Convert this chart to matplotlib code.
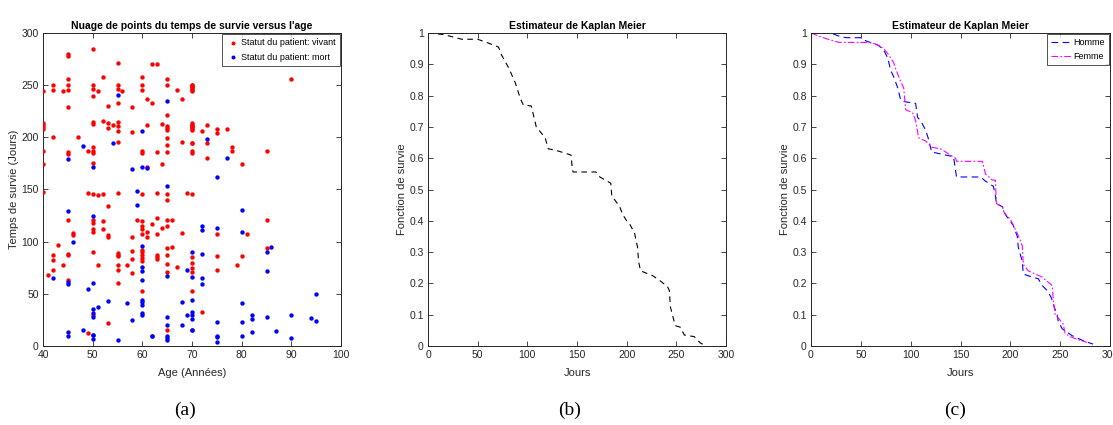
import matplotlib
matplotlib.use("Agg")
import matplotlib.pyplot as plt
import numpy as np

# ---------------- data: panel (a) ----------------
age_vivant = [45, 45, 50, 55, 62, 63, 52, 45, 60, 65, 42, 42, 40, 44, 45, 45, 50, 50, 51, 50,
              55, 55, 56, 60, 60, 61, 62, 65, 67, 68, 70, 70, 70, 55, 53, 45, 58, 65,
              40, 40, 40, 40, 50, 50, 52, 53, 53, 54, 55, 55, 55, 55, 58, 61, 64,
              65, 65, 65, 65, 65, 65, 70, 70, 70, 68, 70, 42, 47, 49, 50, 50, 50, 45, 45,
              40, 40, 50, 60, 60, 63, 64, 61,
              90, 70, 70, 70, 70, 70, 70, 70, 70, 72, 73, 75, 75, 77, 70, 73, 78, 78, 70, 70, 85, 73, 80,
              40, 49, 50, 51, 52, 55, 60, 63, 65, 65, 69, 70,
              45, 53, 50, 50, 50, 50, 52, 52, 53, 53, 46, 46, 59, 60, 60, 60, 60, 61, 61, 62, 63, 64, 63,
              58, 65, 65, 66, 68, 43, 42, 42, 42, 41, 44, 45, 45, 45, 50, 51,
              55, 55, 55, 55, 55, 55, 57, 58, 58, 58, 60, 60, 60, 60, 60, 60, 63, 63, 63,
              65, 65, 65, 65, 66, 67, 70, 70, 70, 70, 70, 53, 65, 49, 50,
              85, 75, 81, 75, 80, 79, 75, 85, 72]
temps_vivant = [280, 278, 285, 271, 270, 270, 258, 256, 258, 256, 250, 245, 244, 244, 250, 245, 250, 246, 244, 240,
                250, 246, 244, 250, 245, 237, 233, 250, 245, 237, 250, 248, 245, 233, 230, 229, 229, 221,
                214, 212, 210, 208, 215, 213, 216, 214, 209, 212, 215, 211, 206, 196, 205, 212, 213,
                211, 209, 207, 199, 193, 186, 212, 210, 207, 196, 195, 200, 200, 187, 191, 187, 185, 186, 184,
                187, 174, 175, 187, 185, 186, 174, 172,
                256, 250, 248, 246, 244, 214, 212, 210, 208, 206, 212, 208, 204, 208, 195, 195, 191, 187, 187, 185, 187, 180, 174,
                148, 147, 146, 145, 146, 147, 146, 147, 146, 140, 147, 146,
                121, 134, 121, 118, 112, 109, 120, 112, 106, 104, 108, 106, 121, 120, 115, 112, 107, 109, 104, 117, 123, 113, 107,
                104, 121, 115, 121, 108, 97, 87, 82, 73, 68, 78, 88, 87, 63, 90, 78,
                89, 87, 86, 78, 73, 60, 78, 91, 83, 70, 92, 90, 87, 84, 81, 53, 87, 85, 83,
                94, 87, 79, 71, 95, 76, 85, 80, 75, 71, 53, 22, 15, 12, 30,
                121, 107, 107, 86, 86, 78, 73, 94, 33]
age_mort = [55, 65, 60, 54, 48, 45, 50, 58, 60, 61, 65, 59, 73, 77, 75, 59, 45, 50, 46,
            42, 45, 45, 50, 49, 60, 60, 60, 60, 60, 60, 60, 60, 60, 62, 65, 68, 69, 69,
            70, 70, 70, 70, 70, 53, 51, 50, 50, 50, 50, 57, 58, 65, 65, 65, 65, 65, 68, 45, 45, 48, 50, 50, 55,
            80, 72, 72, 75, 80, 72, 85, 86, 85, 72, 72, 70, 75, 75, 75, 75, 80, 80, 80, 82, 82, 82,
            85, 87, 90, 90, 94, 95, 95, 62, 70, 70]
temps_mort = [241, 235, 206, 195, 192, 179, 172, 170, 172, 171, 153, 149, 198, 180, 162, 135, 129, 125, 100,
              65, 61, 59, 60, 55, 96, 76, 72, 63, 44, 42, 39, 32, 30, 10, 67, 42, 73, 30,
              90, 66, 44, 33, 30, 43, 37, 35, 32, 28, 11, 41, 25, 28, 20, 10, 8, 6, 20, 13, 10, 15, 11, 7, 6,
              130, 115, 111, 113, 109, 88, 90, 95, 72, 65, 59, 15, 23, 10, 9, 4, 41, 23, 10, 30, 26, 13,
              28, 14, 30, 8, 27, 50, 24, 10, 26, 15]

# ---------------- data: panel (b) ----------------
km_jours = [0, 16, 34, 50, 59, 71, 74, 81, 88, 93, 96, 104, 106, 109, 118, 121, 129, 144, 145, 146,
            169, 173, 184, 185, 193, 196, 200, 203, 208, 211, 212, 214, 226, 233, 241, 243, 244,
            246, 249, 254, 258, 268, 274, 280]
km_survie = [1.0, 0.995, 0.98, 0.98, 0.97, 0.955, 0.93, 0.89, 0.84, 0.79, 0.77, 0.767, 0.74, 0.70, 0.665,
             0.63, 0.625, 0.61, 0.575, 0.556, 0.556, 0.54, 0.52, 0.48, 0.445, 0.42, 0.40, 0.39, 0.36,
             0.315, 0.27, 0.24, 0.225, 0.21, 0.19, 0.177, 0.125, 0.10, 0.065, 0.06, 0.035, 0.03, 0.01, 0.0]

# ---------------- data: panel (c) ----------------
homme_jours = [0, 20, 28, 35, 50, 55, 68, 73, 77, 80, 83, 87, 90, 95, 105, 107, 110, 115, 118, 121,
               128, 135, 143, 146, 170, 175, 183, 185, 186, 192, 195, 203, 207, 208, 212, 213, 222,
               228, 232, 237, 241, 244, 247, 248, 252, 257, 262, 273, 283]
homme_survie = [1.0, 1.0, 0.99, 0.985, 0.985, 0.975, 0.96, 0.945, 0.92, 0.88, 0.86, 0.825, 0.785, 0.78,
                0.775, 0.73, 0.72, 0.69, 0.66, 0.62, 0.615, 0.61, 0.605, 0.54, 0.54, 0.527, 0.51, 0.48,
                0.455, 0.445, 0.42, 0.385, 0.35, 0.315, 0.27, 0.23, 0.22, 0.215, 0.193, 0.177, 0.155,
                0.125, 0.10, 0.08, 0.055, 0.044, 0.033, 0.017, 0.006]
femme_jours = [0, 8, 17, 28, 58, 65, 73, 78, 83, 85, 90, 93, 95, 102, 105, 108, 115, 121, 130, 145, 146,
               172, 175, 182, 185, 186, 192, 194, 200, 207, 212, 213, 218, 225, 232, 242, 243, 245,
               248, 253, 255, 260, 268, 277]
femme_survie = [1.0, 0.99, 0.98, 0.97, 0.97, 0.965, 0.95, 0.93, 0.905, 0.885, 0.845, 0.825, 0.755, 0.745,
                0.72, 0.665, 0.655, 0.635, 0.63, 0.60, 0.59, 0.59, 0.55, 0.53, 0.53, 0.455, 0.445, 0.425,
                0.405, 0.36, 0.32, 0.26, 0.24, 0.23, 0.22, 0.193, 0.15, 0.10, 0.09, 0.07, 0.04, 0.03,
                0.02, 0.012]

# ---------------- figure ----------------
FONT = ['Liberation Sans Narrow', 'Liberation Sans', 'DejaVu Sans']
plt.rcParams['font.family'] = FONT
plt.rcParams['font.size'] = 7.5

W, H = 1113, 425
fig = plt.figure(figsize=(W / 100, H / 100), dpi=100)
GREY = '#262626'

def box(left, right, top, bottom):
    return [left / W, (H - bottom) / H, (right - left) / W, (bottom - top) / H]

def style(ax):
    ax.tick_params(direction='in', top=True, right=True, length=3.5, width=0.6,
                   labelsize=7.5, colors=GREY, pad=3)
    for s in ax.spines.values():
        s.set_linewidth(0.7)
        s.set_color(GREY)

def km_axes(ax):
    ax.set_xlim(0, 300)
    ax.set_ylim(0, 1)
    ax.set_xticks(range(0, 301, 50))
    ax.set_yticks(np.arange(0, 1.01, 0.1))
    ax.set_yticklabels(['0'] + [f'{v:.1f}' for v in np.arange(0.1, 0.95, 0.1)] + ['1'])
    style(ax)
    ax.set_title('Estimateur de Kaplan Meier', fontsize=7.5, fontweight='bold', pad=3)
    ax.set_xlabel('Jours', fontsize=8, color=GREY, labelpad=6)
    ax.set_ylabel('Fonction de survie', fontsize=8, color=GREY, labelpad=2)

# panel a
ax1 = fig.add_axes(box(43, 341, 33, 346))
ax1.scatter(age_vivant, temps_vivant, s=10, color='red', linewidths=0,
            label='Statut du patient: vivant', zorder=3)
ax1.scatter(age_mort, temps_mort, s=10, color='blue', linewidths=0,
            label='Statut du patient: mort', zorder=3)
ax1.set_xlim(40, 100)
ax1.set_ylim(0, 300)
ax1.set_xticks(range(40, 101, 10))
ax1.set_yticks(range(0, 301, 50))
style(ax1)
ax1.set_title("Nuage de points du temps de survie versus l'age", fontsize=7.5, fontweight='bold', pad=3)
ax1.set_xlabel('Age (Années)', fontsize=8, color=GREY, labelpad=6)
ax1.set_ylabel('Temps de survie (Jours)', fontsize=8, color=GREY, labelpad=2)
leg = ax1.legend(loc='upper right', fontsize=6.5, frameon=True, fancybox=False, edgecolor=GREY,
                 borderaxespad=0.15, handletextpad=0.1, markerscale=0.9, borderpad=0.45,
                 labelspacing=0.6, handlelength=1.6)
leg.get_frame().set_linewidth(0.7)

# panel b
ax2 = fig.add_axes(box(428, 726, 33, 346))
ax2.plot(km_jours, km_survie, color='black', linestyle=(0, (5, 4)), linewidth=0.8)
km_axes(ax2)

# panel c
ax3 = fig.add_axes(box(811, 1110, 33, 346))
ax3.plot(homme_jours, homme_survie, color='blue', linestyle=(0, (6, 4)),
         linewidth=0.8, label='Homme')
ax3.plot(femme_jours, femme_survie, color='magenta', linestyle=(0, (6, 2, 1.5, 2)),
         linewidth=0.8, label='Femme')
km_axes(ax3)
leg3 = ax3.legend(loc='upper right', fontsize=6.5, frameon=True, fancybox=False, edgecolor=GREY,
                  borderaxespad=0.15, handlelength=2.2, handletextpad=0.2, borderpad=0.45,
                  labelspacing=0.5)
leg3.get_frame().set_linewidth(0.7)

for x, lab in [(185, '(a)'), (570, '(b)'), (955, '(c)')]:
    fig.text(x / W, 1 - 410 / H, lab, ha='center', va='center', fontsize=14,
             family=['Liberation Serif', 'DejaVu Serif'])

fig.savefig('out.png', dpi=100)
